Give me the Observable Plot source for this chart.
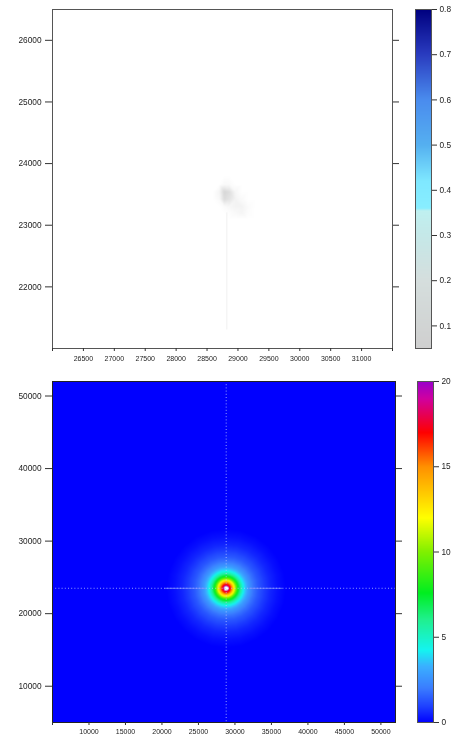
<!DOCTYPE html>
<html>
<head>
<meta charset="utf-8">
<style>
  html, body { margin: 0; padding: 0; background: #fff; width: 453px; height: 737px; overflow: hidden; }
  #page { position: relative; width: 453px; height: 737px; overflow: hidden; filter: blur(0.35px); }
  #page > div { position: absolute; }
  svg { display: block; max-width: none !important; }
</style>
<script src="https://cdn.jsdelivr.net/npm/d3@7"></script>
<script src="https://cdn.jsdelivr.net/npm/@observablehq/plot@0.6"></script>
</head>
<body>
<div id="page"></div>
<script>
// ---- top panel (zoomed view) ----
const zoomXDomain = [26000, 31500];
const zoomYDomain = [21000, 26500];
const zoomXTicks = [26000, 26500, 27000, 27500, 28000, 28500, 29000, 29500, 30000, 30500, 31000, 31500];
const zoomXLabels = [26500, 27000, 27500, 28000, 28500, 29000, 29500, 30000, 30500, 31000];
const zoomYTicks = [22000, 23000, 24000, 25000, 26000];
const zoomBarTicks = [0.1, 0.2, 0.3, 0.4, 0.5, 0.6, 0.7, 0.8];
const zoomStops = [0, 0.05, 0.2, 0.3, 0.355, 0.36, 0.42, 0.5, 0.6, 0.7, 0.8];
const zoomColors = ["#ffffff", "#cfcfcf", "#d5dedd", "#c5e8e8", "#bff0f0", "#88eeff", "#7fe8ff", "#55b0f0", "#4a8cee", "#2a3cc0", "#00007f"];
const smudgeXs = [26000, 28600, 28700, 28780, 28860, 28960, 29060, 29160, 29280, 31500];
const smudgeYs = [26500, 23800, 23660, 23540, 23420, 23300, 23200, 23100, 21000];
const smudgeRows = [
  [0, 0, 0,     0,     0,     0,     0,     0,     0, 0],
  [0, 0, 0,     0,     0,     0,     0,     0,     0, 0],
  [0, 0, 0,     0.006, 0.005, 0,     0,     0,     0, 0],
  [0, 0, 0.010, 0.042, 0.034, 0.008, 0,     0,     0, 0],
  [0, 0, 0.006, 0.036, 0.028, 0.012, 0.005, 0,     0, 0],
  [0, 0, 0,     0.004, 0.008, 0.012, 0.012, 0.004, 0, 0],
  [0, 0, 0,     0,     0.002, 0.006, 0.010, 0.003, 0, 0],
  [0, 0, 0,     0,     0,     0,     0,     0,     0, 0],
  [0, 0, 0,     0,     0,     0,     0,     0,     0, 0]
];
const faintLineX = 28820;
const faintLineY = [21300, 23200];

// ---- bottom panel (full view) ----
const fullXDomain = [5000, 52000];
const fullYDomain = [5000, 52000];
const fullXTicks = [5000, 10000, 15000, 20000, 25000, 30000, 35000, 40000, 45000, 50000];
const fullXLabels = [10000, 15000, 20000, 25000, 30000, 35000, 40000, 45000, 50000];
const fullYTicks = [10000, 20000, 30000, 40000, 50000];
const fullBarTicks = [0, 5, 10, 15, 20];
const fullStops = [0, 1, 2, 3.3, 4.25, 6, 7.6, 10, 12, 15, 17, 19, 20, 20.6];
const fullColors = ["#0000ff", "#2044ff", "#3a7cff", "#3ab0ff", "#14f4f0", "#20f090", "#00ee20", "#80f000", "#ffff00", "#ff9000", "#ff0000", "#d000a0", "#9900cc", "#ffffff"];
const peakX = 28800;
const peakY = 23500;
const profileRadius = [0, 275, 410, 620, 825, 1100, 1375, 1650, 2060, 2470, 3020, 3710, 4400, 5220, 6040, 7140, 8240];
const profileValue = [26, 21, 18, 16.5, 14.5, 12, 9.5, 7.5, 5.5, 4.0, 2.8, 1.9, 1.35, 0.9, 0.55, 0.22, 0];
const rayAngles = [0, 15, 30, 45, 60, 75, 90, 105, 120, 135, 150, 165, 180, 195, 210, 225, 240, 255, 270, 285, 300, 315, 330, 345];
const glowX = [[20500, 26000], [32000, 36500]];

const font = {fontFamily: "'Liberation Sans', Arial, sans-serif", background: "transparent", color: "#222"};
const ink = "#333";

function place(node, left, top) {
  const holder = document.createElement("div");
  holder.style.left = left + "px";
  holder.style.top = top + "px";
  holder.style.width = node.getAttribute("width") + "px";
  holder.appendChild(node);
  document.getElementById("page").appendChild(holder);
}

function panel({xDomain, yDomain, xTicks, xLabels, yTicks, stops, colors, marks, width, height, top, bottom, right, frameStroke, xPadding}) {
  return Plot.plot({
    width, height,
    marginLeft: 52, marginRight: right, marginTop: top, marginBottom: bottom,
    style: font,
    x: {domain: xDomain},
    y: {domain: yDomain},
    color: {type: "linear", domain: stops, range: colors},
    marks: [
      ...marks,
      Plot.frame({stroke: frameStroke, strokeWidth: 1}),
      Plot.axisX({anchor: "bottom", ticks: xTicks, tickSize: 3, tickPadding: xPadding, fontSize: 7, label: null,
        tickFormat: d => xLabels.includes(d) ? String(d) : "", stroke: ink}),
      Plot.axisY({anchor: "left", ticks: yTicks, tickSize: 7, tickPadding: 4, fontSize: 8.3, label: null,
        tickFormat: d => String(d), stroke: ink}),
      Plot.axisY({anchor: "right", ticks: yTicks, tickSize: 6, tickFormat: () => "", label: null, stroke: ink})
    ]
  });
}

function colorBar({stops, colors, domain, ticks, height, top, bottom, width, format}) {
  return Plot.plot({
    width, height,
    marginLeft: 1, marginRight: width - 17, marginTop: top, marginBottom: bottom,
    style: font,
    x: {domain: [0, 1], axis: null},
    y: {domain},
    color: {type: "linear", domain: stops, range: colors},
    marks: [
      Plot.raster({fill: (x, y) => y, x1: 0, x2: 1, y1: domain[0], y2: domain[1], imageRendering: "auto"}),
      Plot.frame({stroke: "#555", strokeWidth: 1}),
      Plot.axisY({anchor: "right", ticks, tickSize: 5, tickPadding: 3, fontSize: 8.3, label: null,
        tickFormat: format, stroke: ink})
    ]
  });
}

const smudgeCells = smudgeYs.flatMap((y, j) => smudgeXs.map((x, i) => ({x, y, v: smudgeRows[j][i]})));

place(panel({
  xDomain: zoomXDomain, yDomain: zoomYDomain, xTicks: zoomXTicks, xLabels: zoomXLabels, yTicks: zoomYTicks,
  stops: zoomStops, colors: zoomColors, width: 410, height: 370, top: 9, bottom: 22, right: 18,
  frameStroke: "#555", xPadding: 5,
  marks: [
    Plot.raster(smudgeCells, {x: "x", y: "y", fill: "v", interpolate: "barycentric",
      x1: zoomXDomain[0], x2: zoomXDomain[1], y1: zoomYDomain[0], y2: zoomYDomain[1]}),
    Plot.ruleX([faintLineX], {y1: faintLineY[0], y2: faintLineY[1], stroke: "#f0f0f0", strokeWidth: 1})
  ]
}), 0, 0);

place(colorBar({
  stops: zoomStops, colors: zoomColors, domain: [0.05, 0.8], ticks: zoomBarTicks,
  width: 60, height: 370, top: 9, bottom: 22, format: d => d.toFixed(1)
}), 414, 0);

const ringCells = [
  ...rayAngles.flatMap(a => profileRadius.slice(1).map((r, i) => ({
    x: peakX + r * Math.cos(a * Math.PI / 180),
    y: peakY + r * Math.sin(a * Math.PI / 180),
    v: profileValue[i + 1]
  }))),
  {x: peakX, y: peakY, v: profileValue[0]},
  {x: fullXDomain[0], y: fullYDomain[0], v: 0},
  {x: fullXDomain[1], y: fullYDomain[0], v: 0},
  {x: fullXDomain[0], y: fullYDomain[1], v: 0},
  {x: fullXDomain[1], y: fullYDomain[1], v: 0}
];

place(panel({
  xDomain: fullXDomain, yDomain: fullYDomain, xTicks: fullXTicks, xLabels: fullXLabels, yTicks: fullYTicks,
  stops: fullStops, colors: fullColors, width: 412, height: 367, top: 11, bottom: 15, right: 17,
  frameStroke: "#222", xPadding: 4,
  marks: [
    Plot.raster(ringCells, {x: "x", y: "y", fill: "v", interpolate: "barycentric",
      x1: fullXDomain[0], x2: fullXDomain[1], y1: fullYDomain[0], y2: fullYDomain[1]}),
    Plot.ruleX([peakX], {stroke: "#b8c4ff", strokeWidth: 1, strokeDasharray: "1,2.2", strokeOpacity: 0.8}),
    Plot.ruleY([peakY], {stroke: "#b8c4ff", strokeWidth: 1, strokeDasharray: "1,2.2", strokeOpacity: 0.8}),
    Plot.ruleY(glowX, {x1: d => d[0], x2: d => d[1], y: () => peakY, stroke: "#7f90ff", strokeWidth: 1, strokeOpacity: 0.8})
  ]
}), 0, 370);

place(colorBar({
  stops: fullStops, colors: fullColors, domain: [0, 20], ticks: fullBarTicks,
  width: 60, height: 367, top: 11, bottom: 15, format: d => String(d)
}), 416, 370);
</script>
</body>
</html>
